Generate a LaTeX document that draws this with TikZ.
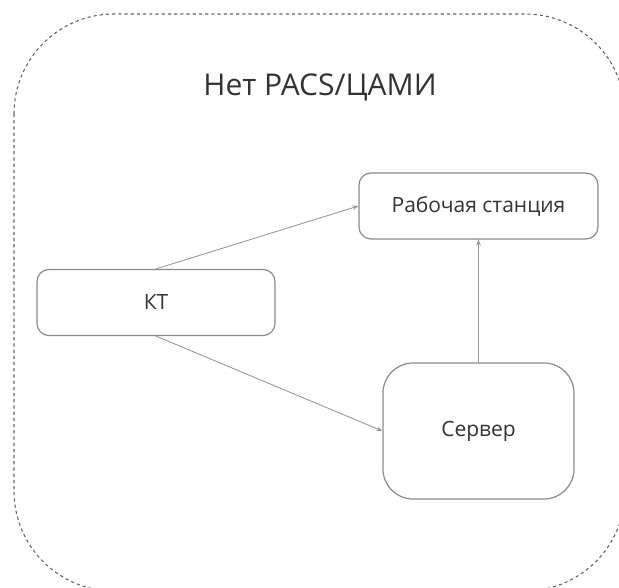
\documentclass[tikz,border=0pt]{standalone}
\usepackage{fontspec}
\setmainfont{Open Sans}
\usetikzlibrary{arrows.meta}
\definecolor{ramka}{HTML}{666666}
\definecolor{kontur}{HTML}{8A8A8A}
\definecolor{liniya}{HTML}{9A9A9A}
\definecolor{tekst}{HTML}{333333}
\begin{document}
\begin{tikzpicture}[x=0.5pt, y=-0.5pt, font=\fontsize{10.5}{12}\selectfont, line join=round, line cap=round, >={Stealth[length=3pt,width=2.4pt]},
    blok/.style={draw=kontur, line width=0.6pt, rounded corners=6pt, text=tekst, minimum width=119pt, minimum height=33pt, inner sep=0pt},
    strelka/.style={->, draw=liniya, line width=0.45pt}]
    \useasboundingbox (0,0) rectangle (619,587);
    % outer zone
    \draw[draw=ramka, line width=0.55pt, line cap=butt, dash pattern=on 1.6pt off 1.5pt, rounded corners=50pt] (14,14) rectangle (625,591);
    \node[text=tekst, font=\fontsize{15}{18}\selectfont, anchor=base] (zona) at (320,96) {Нет PACS/ЦАМИ};
    % nodes
    \node[blok] (kt) at (156,302.5) {КТ};
    \node[blok, minimum width=119.5pt] (stanciya) at (478.5,206) {Рабочая станция};
    \node[blok, minimum width=95.5pt, minimum height=68pt, rounded corners=15pt] (server) at (478.5,431) {Сервер};
    % links
    \draw[strelka] (kt.north) -- (stanciya.west);
    \draw[strelka] (kt.south) -- (server.west);
    \draw[strelka] (server.north) -- (stanciya.south);
\end{tikzpicture}
\end{document}
